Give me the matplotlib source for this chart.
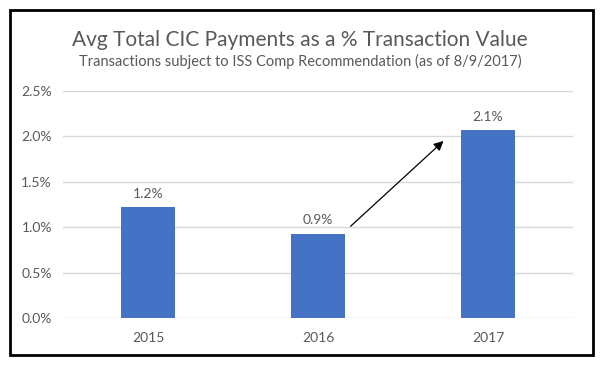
import matplotlib.pyplot as plt
from matplotlib.patches import Rectangle
from matplotlib.ticker import FuncFormatter

years = ['2015', '2016', '2017']
avg_cic_pct = [1.22, 0.93, 2.07]
bar_labels = ['1.2%', '0.9%', '2.1%']
y_ticks = [0.0, 0.5, 1.0, 1.5, 2.0, 2.5]

plt.rcParams['font.family'] = ['Lato', 'DejaVu Sans']
grey = '#595959'

fig = plt.figure(figsize=(6, 3.68), dpi=100)
ax = fig.add_axes([63 / 600, 1 - 318 / 368, 510 / 600, 227 / 368])

x = range(len(years))
ax.bar(x, avg_cic_pct, width=0.32, color='#4472C4', zorder=3)
for i, (v, lab) in enumerate(zip(avg_cic_pct, bar_labels)):
    ax.text(i, v + 0.08, lab, ha='center', va='bottom', fontsize=10, color=grey)

ax.set_xlim(-0.5, 2.5)
ax.set_ylim(0, 2.5)
ax.set_yticks(y_ticks)
ax.yaxis.set_major_formatter(FuncFormatter(lambda v, p: f'{v:.1f}%'))
ax.set_xticks(list(x))
ax.set_xticklabels(years)
ax.tick_params(axis='both', length=0, labelsize=10, labelcolor=grey, pad=10)
ax.tick_params(axis='y', pad=8)
ax.grid(axis='y', color='#D9D9D9', linewidth=1, zorder=0)
for s in ax.spines.values():
    s.set_visible(False)

# arrow showing the jump from 2016 to 2017
ax.annotate('', xy=(1.75, 1.97), xytext=(1.18, 0.99),
            arrowprops=dict(arrowstyle='-|>', color='black', lw=0.9, mutation_scale=14))

fig.text(0.5, 1 - 40 / 368, 'Avg Total CIC Payments as a % Transaction Value',
         ha='center', va='center', fontsize=15, color=grey)
fig.text(0.5, 1 - 61 / 368, 'Transactions subject to ISS Comp Recommendation (as of 8/9/2017)',
         ha='center', va='center', fontsize=10.5, color=grey)

# border around the chart
fig.patches.append(Rectangle((10 / 600, 1 - 355 / 368), 583 / 600, 345 / 368,
                             transform=fig.transFigure, fill=False,
                             edgecolor='black', linewidth=2))

fig.savefig('out.png', dpi=100)
